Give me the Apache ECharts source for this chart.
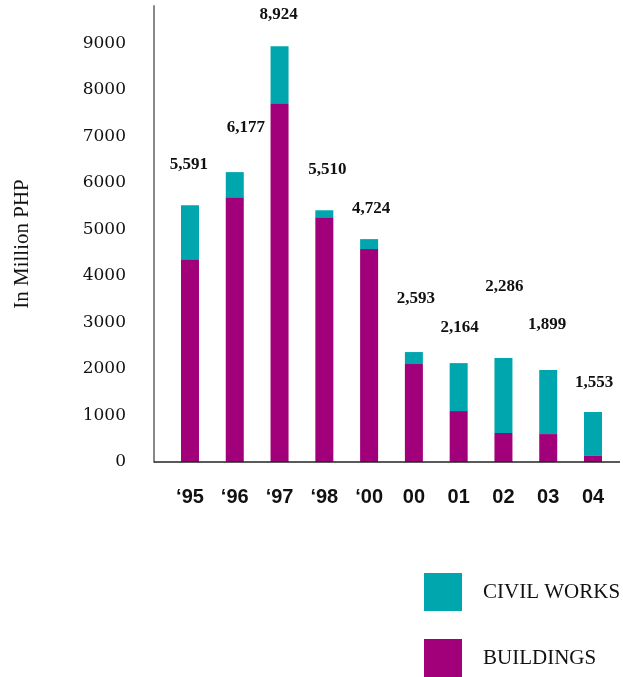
<!DOCTYPE html>
<html>
<head>
<meta charset="utf-8">
<script src="https://cdn.jsdelivr.net/npm/echarts@6/dist/echarts.min.js"></script>
<style>
  html, body { margin: 0; padding: 0; background: #fff; }
  #chart { width: 623px; height: 677px; }
</style>
</head>
<body>
<div id="chart"></div>
<script>
// years on the x axis
var years = ["\u201895", "\u201896", "\u201897", "\u201898", "\u201800", "00", "01", "02", "03", "04"];
// stacked values, million PHP
var buildings = [4360, 5690, 7710, 5260, 4575, 2105, 1095, 625, 600, 130];
var civilWorks = [1160, 540, 1225, 150, 215, 258, 1030, 1610, 1375, 945];
// totals printed above the bars
var totals = [5591, 6177, 8924, 5510, 4724, 2593, 2164, 2286, 1899, 1553];
var yTicks = [0, 1000, 2000, 3000, 4000, 5000, 6000, 7000, 8000, 9000];

// how far each total label floats above its bar (px) and sideways shift
var labelLift = [41, 45, 32, 41, 31, 54, 36, 72, 46, 30];
var labelShift = [-1, 11, -1, 3, 2, 2, 1, 1, -1, 1];

var serif = "'Liberation Serif', 'DejaVu Serif', serif";
var gridLeft = 167.6, gridRight = 7.6, gridTop = 6, gridBottom = 215;

var chart = echarts.init(document.getElementById("chart"));

var civilData = civilWorks.map(function (v, i) {
	return {
		value: v,
		label: {
			distance: labelLift[i] - 9,
			offset: [labelShift[i], 0],
			formatter: totals[i].toLocaleString("en-US")
		}
	};
});

var option = {
	animation: false,
	color: ["#a2007a", "#00a6ae"],
	grid: {
		left: gridLeft,
		right: gridRight,
		top: gridTop,
		bottom: gridBottom
	},
	legend: {
		orient: "vertical",
		left: 424,
		top: 573,
		padding: 0,
		itemWidth: 38,
		itemHeight: 38,
		itemGap: 28,
		icon: "rect",
		data: ["CIVIL WORKS", "BUILDINGS"],
		textStyle: {
			fontFamily: serif,
			fontSize: 21,
			color: "#111",
			padding: [0, 0, 0, 16]
		}
	},
	xAxis: {
		type: "category",
		data: years,
		axisLine: { show: false },
		axisTick: { show: false },
		axisLabel: {
			margin: 25,
			color: "#111",
			fontWeight: "bold",
			fontSize: 20,
			fontFamily: "'Liberation Sans Narrow', 'Liberation Sans', sans-serif"
		}
	},
	yAxis: {
		type: "value",
		min: 0,
		max: 9800,
		interval: 1000,
		offset: 13.6,
		splitLine: { show: false },
		axisTick: { show: false },
		axisLine: {
			show: true,
			lineStyle: { color: "#888", width: 2 }
		},
		axisLabel: {
			margin: 28,
			showMaxLabel: false,
			color: "#111",
			fontSize: 17,
			fontFamily: "'DejaVu Serif', serif",
			formatter: function (v) {
				return yTicks.indexOf(v) >= 0 ? String(v) : "";
			}
		},
		name: "In Million PHP",
		nameLocation: "middle",
		nameRotate: 90,
		nameGap: 121,
		nameTextStyle: {
			fontFamily: serif,
			fontSize: 21,
			color: "#111",
			padding: [0, 20, 0, 0]
		}
	},
	series: [
		{
			name: "BUILDINGS",
			type: "bar",
			stack: "total",
			barWidth: 18,
			data: buildings
		},
		{
			name: "CIVIL WORKS",
			type: "bar",
			stack: "total",
			barWidth: 18,
			data: civilData,
			label: {
				show: true,
				position: "top",
				color: "#111",
				fontWeight: "bold",
				fontSize: 17,
				fontFamily: serif
			}
		}
	]
};
chart.setOption(option);

// x axis line runs a little past the bar area on both sides
var y0 = chart.convertToPixel({ yAxisIndex: 0 }, 0);
chart.setOption({
	graphic: [{
		type: "line",
		shape: { x1: gridLeft - 13.6, y1: y0, x2: 620, y2: y0 },
		style: { stroke: "#222", lineWidth: 1.5 },
		z: 10
	}]
});
</script>
</body>
</html>
